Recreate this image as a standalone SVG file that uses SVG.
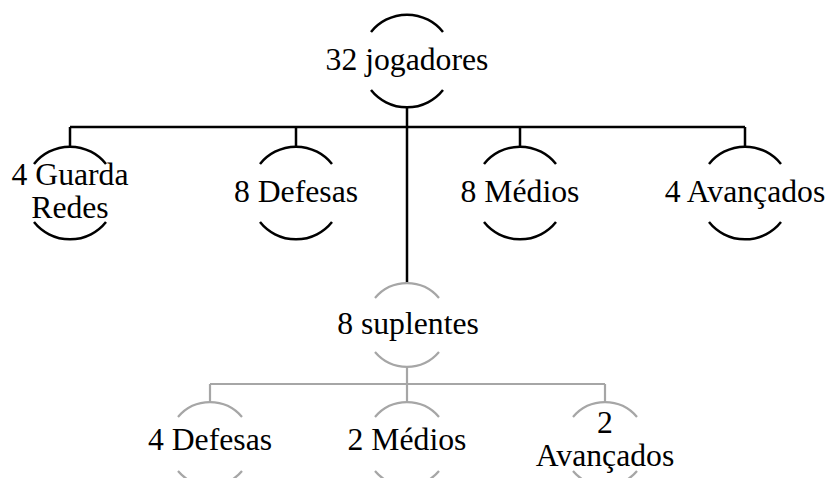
<svg xmlns="http://www.w3.org/2000/svg" width="828" height="478" viewBox="0 0 828 478">
<style>
.arc{fill:none;stroke:#000;stroke-width:2.5}
.garc{fill:none;stroke:#a6a6a6;stroke-width:2.2}
.ln{fill:none;stroke:#000;stroke-width:2.5}
.gln{fill:none;stroke:#a6a6a6;stroke-width:2.2}
text{font-family:"Liberation Serif","Times New Roman",serif;font-size:31.7px;fill:#000;text-anchor:middle}
</style>
<rect width="828" height="478" fill="#fff"/>
<g id="connectors">
<path class="ln" d="M407 107V127M70 127H745M70 127V147M296 127V147M520 127V147M745 127V147M407 127V283"/>
<path class="gln" d="M407 367V384M210 384H605M210 384V402M407 384V402M605 384V402"/>
</g>
<g id="n-jogadores">
<path class="arc" d="M371 32A46 46 0 0 1 443 32M371 90A46 46 0 0 0 443 90"/>
<text x="407" y="70">32 jogadores</text>
</g>
<g id="n-guarda">
<path class="arc" d="M34 164A46 46 0 0 1 106 164M34 222A46 46 0 0 0 106 222"/>
<text x="70" y="185">4 Guarda</text>
<text x="70" y="218">Redes</text>
</g>
<g id="n-defesas">
<path class="arc" d="M260 164A46 46 0 0 1 332 164M260 222A46 46 0 0 0 332 222"/>
<text x="296" y="202">8 Defesas</text>
</g>
<g id="n-medios">
<path class="arc" d="M484 164A46 46 0 0 1 556 164M484 222A46 46 0 0 0 556 222"/>
<text x="520" y="202">8 Médios</text>
</g>
<g id="n-avancados">
<path class="arc" d="M709 164A46 46 0 0 1 781 164M709 222A46 46 0 0 0 781 222"/>
<text x="745" y="202">4 Avançados</text>
</g>
<g id="n-suplentes">
<path class="garc" d="M375 298A42 42 0 0 1 439 298M375 352A42 42 0 0 0 439 352"/>
<text x="408" y="334">8 suplentes</text>
</g>
<g id="n-s-defesas">
<path class="garc" d="M178 417A42 42 0 0 1 242 417M178 471A42 42 0 0 0 242 471"/>
<text x="210" y="450">4 Defesas</text>
</g>
<g id="n-s-medios">
<path class="garc" d="M375 417A42 42 0 0 1 439 417M375 471A42 42 0 0 0 439 471"/>
<text x="407" y="450">2 Médios</text>
</g>
<g id="n-s-avancados">
<path class="garc" d="M573 417A42 42 0 0 1 637 417M573 471A42 42 0 0 0 637 471"/>
<text x="605" y="433">2</text>
<text x="605" y="466">Avançados</text>
</g>
</svg>
